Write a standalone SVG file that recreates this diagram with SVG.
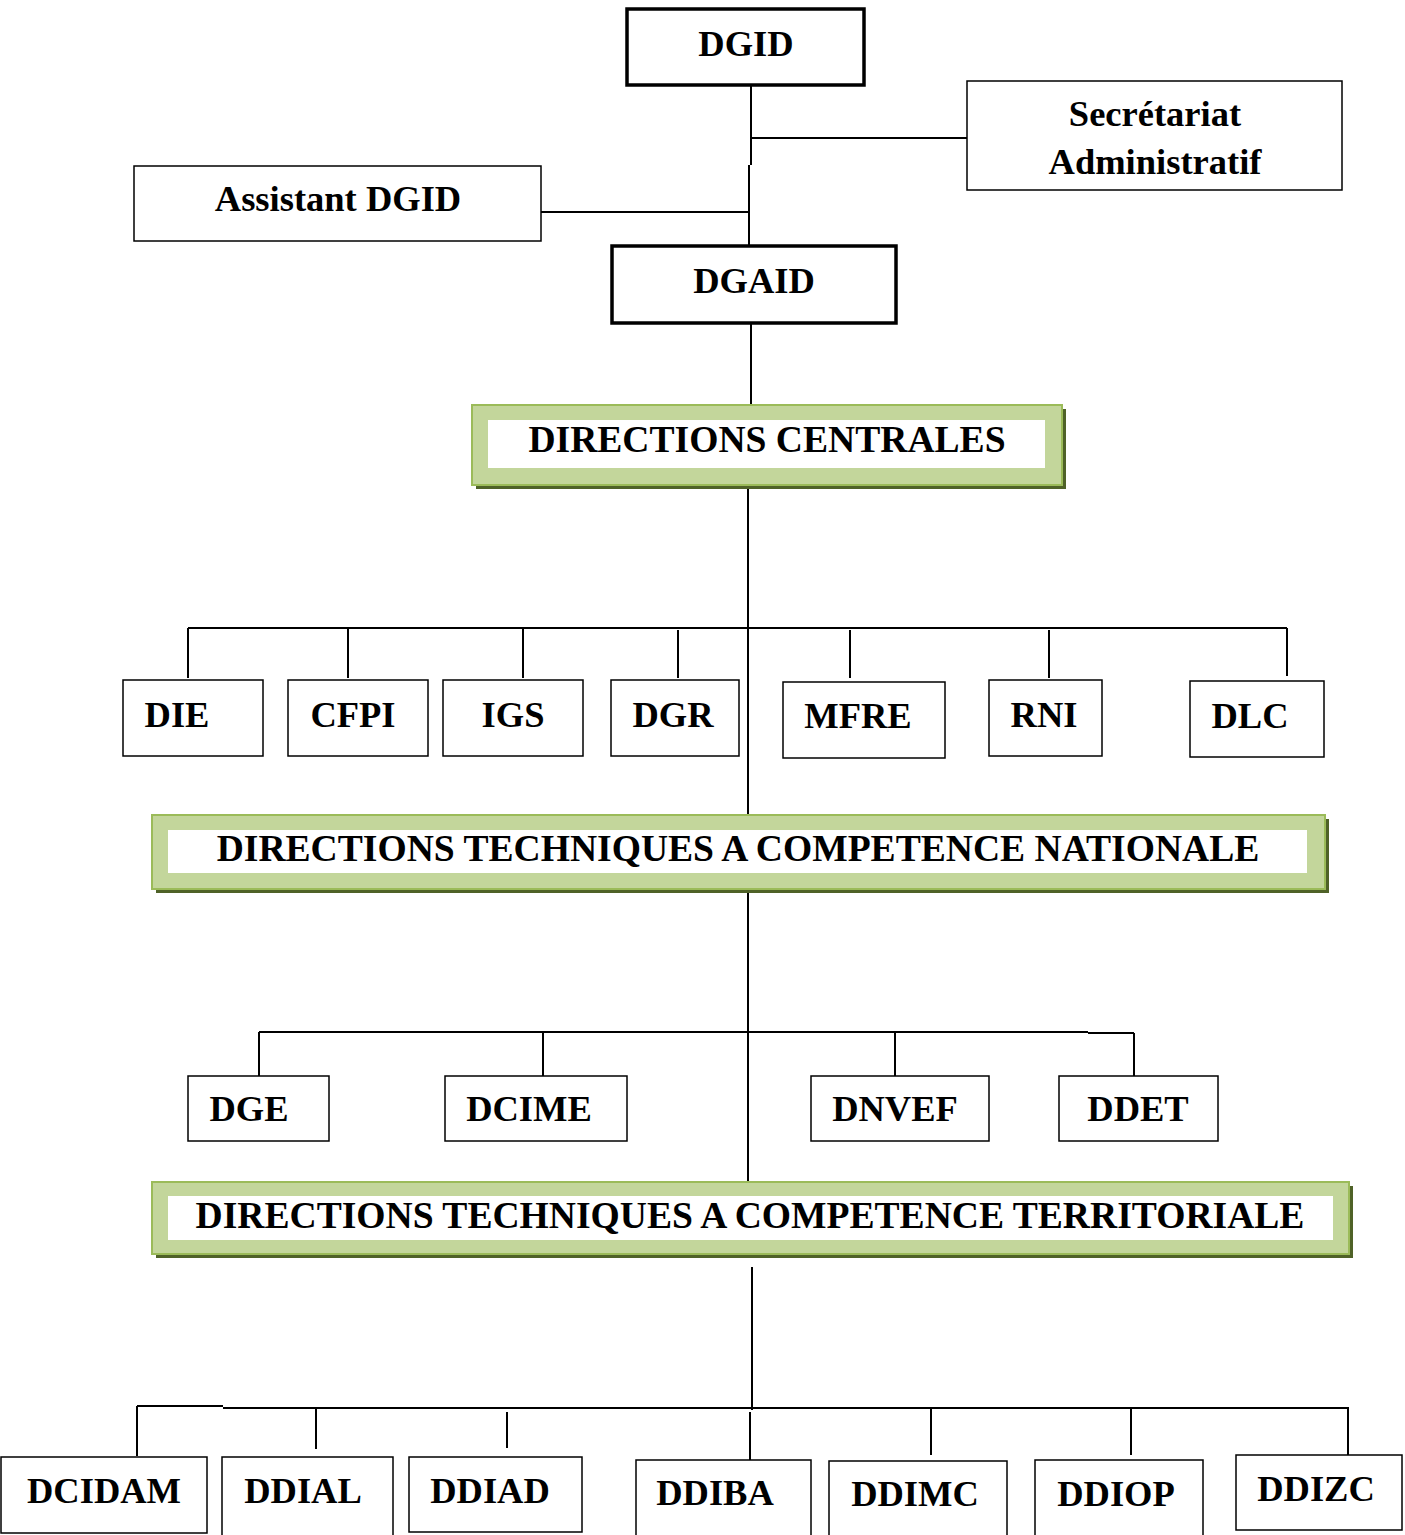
<svg xmlns="http://www.w3.org/2000/svg" width="1405" height="1535" viewBox="0 0 1405 1535">
<style>
.b{fill:#fff;stroke:#000;stroke-width:1.5}
.bt{fill:#fff;stroke:#000;stroke-width:3.5}
.t{font-family:"Liberation Serif","Times New Roman",serif;font-weight:bold;font-size:36.5px;fill:#000;text-anchor:middle}
.tl{font-size:37.6px}
.sh{fill:#4F6228}
.g{fill:#C3D69B;stroke:#9BBB59;stroke-width:2}
.w{fill:#fff}
#connectors line{stroke:#000;stroke-width:2;fill:none}
</style>
<rect width="1405" height="1535" fill="#fff"/>
<g id="connectors">
<line x1="751" y1="85" x2="751" y2="165"/>
<line x1="751" y1="138" x2="967" y2="138"/>
<line x1="749" y1="165" x2="749" y2="246"/>
<line x1="541" y1="212" x2="748" y2="212"/>
<line x1="751" y1="323" x2="751" y2="405"/>
<line x1="748" y1="485" x2="748" y2="815"/>
<line x1="188" y1="628" x2="1287" y2="628"/>
<line x1="188" y1="628" x2="188" y2="678"/>
<line x1="348" y1="628" x2="348" y2="678"/>
<line x1="523" y1="628" x2="523" y2="678"/>
<line x1="678" y1="630" x2="678" y2="678"/>
<line x1="850" y1="630" x2="850" y2="678"/>
<line x1="1049" y1="630" x2="1049" y2="678"/>
<line x1="1287" y1="628" x2="1287" y2="676"/>
<line x1="748" y1="889" x2="748" y2="1182"/>
<line x1="259" y1="1032" x2="1088" y2="1032"/>
<line x1="1088" y1="1033" x2="1134" y2="1033"/>
<line x1="259" y1="1032" x2="259" y2="1076"/>
<line x1="543" y1="1032" x2="543" y2="1076"/>
<line x1="895" y1="1032" x2="895" y2="1076"/>
<line x1="1134" y1="1033" x2="1134" y2="1076"/>
<line x1="752" y1="1267" x2="752" y2="1410"/>
<line x1="137" y1="1406" x2="223" y2="1406"/>
<line x1="223" y1="1408" x2="1349" y2="1408"/>
<line x1="137" y1="1406" x2="137" y2="1456"/>
<line x1="316" y1="1408" x2="316" y2="1449"/>
<line x1="507" y1="1412" x2="507" y2="1448"/>
<line x1="750" y1="1412" x2="750" y2="1460"/>
<line x1="931" y1="1408" x2="931" y2="1455"/>
<line x1="1131" y1="1408" x2="1131" y2="1455"/>
<line x1="1348" y1="1408" x2="1348" y2="1455"/>
</g>
<g id="dgid"><rect class="bt" x="627" y="9" width="237" height="76"/><text class="t" x="746" y="56">DGID</text></g>
<g id="secretariat"><rect class="b" x="967" y="81" width="375" height="109"/><text class="t" x="1155" y="126">Secrétariat</text><text class="t" x="1155" y="174">Administratif</text></g>
<g id="assistant"><rect class="b" x="134" y="166" width="407" height="75"/><text class="t" x="338" y="211">Assistant DGID</text></g>
<g id="dgaid"><rect class="bt" x="612" y="246" width="284" height="77"/><text class="t" x="754" y="293">DGAID</text></g>
<g id="dir-centrales"><rect class="sh" x="476" y="409" width="590" height="80"/><rect class="g" x="472" y="405" width="590" height="80"/><rect class="w" x="488" y="420" width="557" height="48"/><text class="t tl" x="767" y="452">DIRECTIONS CENTRALES</text></g>
<g id="die"><rect class="b" x="123" y="680" width="140" height="76"/><text class="t" x="177" y="727">DIE</text></g>
<g id="cfpi"><rect class="b" x="288" y="680" width="140" height="76"/><text class="t" x="353" y="727">CFPI</text></g>
<g id="igs"><rect class="b" x="443" y="680" width="140" height="76"/><text class="t" x="513" y="727">IGS</text></g>
<g id="dgr"><rect class="b" x="611" y="680" width="128" height="76"/><text class="t" x="673" y="727">DGR</text></g>
<g id="mfre"><rect class="b" x="783" y="682" width="162" height="76"/><text class="t" x="858" y="728">MFRE</text></g>
<g id="rni"><rect class="b" x="989" y="680" width="113" height="76"/><text class="t" x="1044" y="727">RNI</text></g>
<g id="dlc"><rect class="b" x="1190" y="681" width="134" height="76"/><text class="t" x="1250" y="728">DLC</text></g>
<g id="dir-nationale"><rect class="sh" x="156" y="819" width="1173" height="74"/><rect class="g" x="152" y="815" width="1173" height="74"/><rect class="w" x="168" y="830" width="1139" height="43"/><text class="t tl" x="738" y="861">DIRECTIONS TECHNIQUES A COMPETENCE NATIONALE</text></g>
<g id="dge"><rect class="b" x="188" y="1076" width="141" height="65"/><text class="t" x="249" y="1121">DGE</text></g>
<g id="dcime"><rect class="b" x="445" y="1076" width="182" height="65"/><text class="t" x="529" y="1121">DCIME</text></g>
<g id="dnvef"><rect class="b" x="811" y="1076" width="178" height="65"/><text class="t" x="895" y="1121">DNVEF</text></g>
<g id="ddet"><rect class="b" x="1059" y="1076" width="159" height="65"/><text class="t" x="1138" y="1121">DDET</text></g>
<g id="dir-territoriale"><rect class="sh" x="156" y="1186" width="1197" height="72"/><rect class="g" x="152" y="1182" width="1197" height="72"/><rect class="w" x="168" y="1196" width="1165" height="44"/><text class="t tl" x="750" y="1228">DIRECTIONS TECHNIQUES A COMPETENCE TERRITORIALE</text></g>
<g id="dcidam"><rect class="b" x="1" y="1457" width="206" height="76"/><text class="t" x="104" y="1503">DCIDAM</text></g>
<g id="ddial"><rect class="b" x="222" y="1457" width="171" height="80"/><text class="t" x="303" y="1503">DDIAL</text></g>
<g id="ddiad"><rect class="b" x="409" y="1457" width="173" height="75"/><text class="t" x="490" y="1503">DDIAD</text></g>
<g id="ddiba"><rect class="b" x="636" y="1460" width="175" height="77"/><text class="t" x="715" y="1505">DDIBA</text></g>
<g id="ddimc"><rect class="b" x="829" y="1461" width="178" height="76"/><text class="t" x="915" y="1506">DDIMC</text></g>
<g id="ddiop"><rect class="b" x="1035" y="1460" width="168" height="77"/><text class="t" x="1116" y="1506">DDIOP</text></g>
<g id="ddizc"><rect class="b" x="1236" y="1455" width="166" height="75"/><text class="t" x="1316" y="1501">DDIZC</text></g>
</svg>
